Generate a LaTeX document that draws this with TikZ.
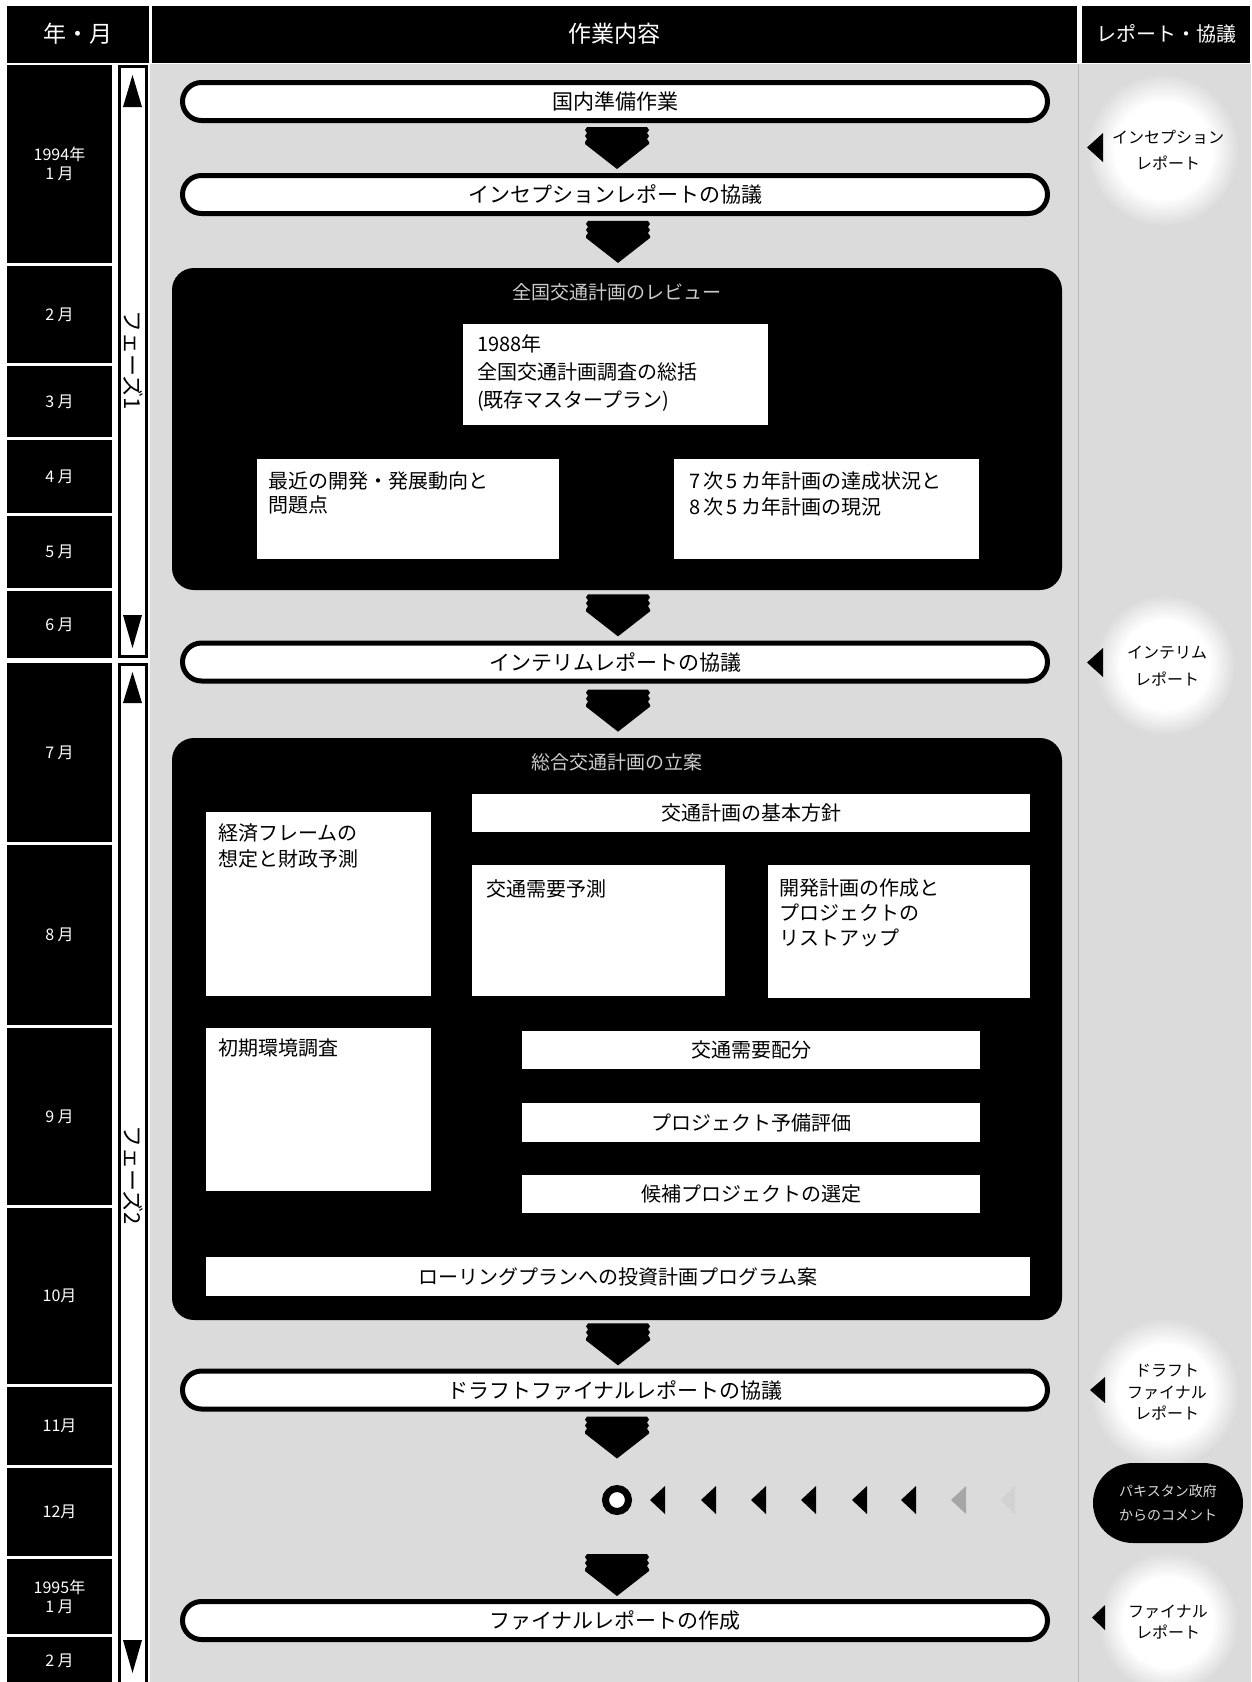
\documentclass[tikz,border=0pt]{standalone}
\usepackage{fontspec}
\setmainfont{Noto Sans CJK JP}
\usetikzlibrary{calc}
\definecolor{bg}{gray}{0.86}
\pgfdeclareradialshading{glow}{\pgfpoint{0cm}{0cm}}{color(0bp)=(white); color(16bp)=(white); color(25bp)=(bg); color(50bp)=(bg)}
\begin{document}
\begin{tikzpicture}[x=1pt,y=-1pt,
  hdr/.style={fill=black,text=white,inner sep=0pt,minimum height=57pt,font=\fontsize{23}{27}\selectfont},
  month/.style={fill=black,text=white,inner sep=0pt,minimum width=105pt,align=center,font=\fontsize{16}{19}\selectfont},
  phasebar/.style={draw=black,line width=3pt,fill=white,inner sep=0pt,minimum width=27pt},
  phasetext/.style={rotate=-90,inner sep=0pt,font=\fontsize{22}{26}\selectfont},
  pill/.style={draw=black,line width=5pt,fill=white,rounded corners=19pt,minimum width=865pt,minimum height=38pt,inner sep=0pt,font=\fontsize{21}{25}\selectfont},
  blackbox/.style={fill=black,rounded corners=22pt,inner sep=0pt,minimum width=890pt},
  boxtitle/.style={text=white!80!black,inner sep=0pt,font=\fontsize{19}{23}\selectfont},
  wbox/.style={fill=white,inner sep=0pt},
  wtext/.style={anchor=north west,align=left,inner sep=0pt,font=\fontsize{20}{26}\selectfont},
  ctext/.style={fill=white,inner sep=0pt,font=\fontsize{20}{24}\selectfont},
  rtext/.style={align=center,inner sep=0pt},
  bigarrow/.pic={\fill[black] (-30,-21) -- (30,-21) -- (32,-18) -- (30,-15) -- (32,-12) -- (30,-9) -- (32,-6) -- (32,-4) -- (0,21) -- (-32,-4) -- (-32,-6) -- (-30,-9) -- (-32,-12) -- (-30,-15) -- (-32,-18) -- cycle;}
]
\useasboundingbox (0,0) rectangle (1251,1682);
\fill[white] (0,0) rectangle (1251,1682);
% stippled background
\fill[bg] (150,64) rectangle (1251,1682);
\draw[gray!55,line width=1pt] (1078,64) -- (1078,1682);
\foreach \cx/\cy/\r in {1163/150/76, 1165/665/70, 1165/1392/74, 1168/1622/70} {
  \shade[shading=glow] (\cx,\cy) circle (\r);
}
% headers
\node[hdr,minimum width=142pt] (hym) at (78,34) {年・月};
\node[hdr,minimum width=925pt] (hwork) at (614.5,34) {作業内容};
\node[hdr,minimum width=168pt,font=\fontsize{20}{24}\selectfont] (hrep) at (1166,34) {レポート・協議};
% months
\node[month,minimum height=198pt] (m1) at (59.5,164) {1994年\\1 月};
\node[month,minimum height=97pt] (m2) at (59.5,314.5) {2 月};
\node[month,minimum height=71pt] (m3) at (59.5,401.5) {3 月};
\node[month,minimum height=73pt] (m4) at (59.5,476.5) {4 月};
\node[month,minimum height=72pt] (m5) at (59.5,552) {5 月};
\node[month,minimum height=67pt] (m6) at (59.5,624.5) {6 月};
\node[month,minimum height=179pt] (m7) at (59.5,752.5) {7 月};
\node[month,minimum height=180pt] (m8) at (59.5,935) {8 月};
\node[month,minimum height=177pt] (m9) at (59.5,1116.5) {9 月};
\node[month,minimum height=176pt] (m10) at (59.5,1296) {10月};
\node[month,minimum height=78pt] (m11) at (59.5,1426) {11月};
\node[month,minimum height=88pt] (m12) at (59.5,1512) {12月};
\node[month,minimum height=75pt] (m13) at (59.5,1596.5) {1995年\\1 月};
\node[month,minimum height=60pt] (m14) at (59.5,1667) {};
\node[text=white,inner sep=0pt,font=\fontsize{16}{19}\selectfont] (m14t) at (59.5,1661) {2 月};
% phases
\node[phasebar,minimum height=590pt] (ph1) at (133,361.5) {};
\node[phasebar,minimum height=1034pt] (ph2) at (133,1181.5) {};
\fill (123,107) -- (142,107) -- (132.5,75) -- cycle;
\fill (123,615) -- (142,615) -- (132.5,648) -- cycle;
\fill (123,703) -- (142,703) -- (132.5,672) -- cycle;
\fill (123,1640) -- (142,1640) -- (132.5,1673) -- cycle;
\node[phasetext] (ph1t) at (133,360) {フェーズ1};
\node[phasetext] (ph2t) at (133,1175) {フェーズ2};
% pills
\node[pill] (p1) at (615,101.5) {国内準備作業};
\node[pill] (p2) at (615,194.5) {インセプションレポートの協議};
\node[pill] (p3) at (615,662) {インテリムレポートの協議};
\node[pill] (p4) at (615,1390) {ドラフトファイナルレポートの協議};
\node[pill] (p5) at (615,1620.5) {ファイナルレポートの作成};
% black box 1
\node[blackbox,minimum height=322pt] (bx1) at (617,429) {};
\node[boxtitle] (bx1t) at (617,292) {全国交通計画のレビュー};
\node[wbox,minimum width=305pt,minimum height=101pt] (b1a) at (615.5,374.5) {};
\node[wtext,font=\fontsize{20}{28}\selectfont] (b1at) at (477,334) {1988年\\全国交通計画調査の総括\\(既存マスタープラン)};
\node[wbox,minimum width=302pt,minimum height=100pt] (b1b) at (408,509) {};
\node[wtext,font=\fontsize{20}{24}\selectfont] (b1bt) at (268,471) {最近の開発・発展動向と\\問題点};
\node[wbox,minimum width=305pt,minimum height=100pt] (b1c) at (826.5,509) {};
\node[wtext] (b1ct) at (689,471) {7\,次\,5\,カ年計画の達成状況と\\8\,次\,5\,カ年計画の現況};
% black box 2
\node[blackbox,minimum height=582pt] (bx2) at (617,1029) {};
\node[boxtitle] (bx2t) at (617,762) {総合交通計画の立案};
\node[ctext,minimum width=558pt,minimum height=38pt] (c1) at (751,813) {交通計画の基本方針};
\node[wbox,minimum width=225pt,minimum height=184pt] (c2) at (318.5,904) {};
\node[wtext] (c2t) at (218,823) {経済フレームの\\想定と財政予測};
\node[wbox,minimum width=253pt,minimum height=131pt] (c3) at (598.5,930.5) {};
\node[wtext] (c3t) at (486,879) {交通需要予測};
\node[wbox,minimum width=262pt,minimum height=133pt] (c4) at (899,931.5) {};
\node[wtext,font=\fontsize{20}{25}\selectfont] (c4t) at (779,879) {開発計画の作成と\\プロジェクトの\\リストアップ};
\node[wbox,minimum width=225pt,minimum height=163pt] (c5) at (318.5,1109.5) {};
\node[wtext] (c5t) at (218,1038) {初期環境調査};
\node[ctext,minimum width=458pt,minimum height=38pt] (c6) at (751,1050) {交通需要配分};
\node[ctext,minimum width=458pt,minimum height=39pt] (c7) at (751,1122.5) {プロジェクト予備評価};
\node[ctext,minimum width=458pt,minimum height=38pt] (c8) at (751,1194) {候補プロジェクトの選定};
\node[ctext,minimum width=824pt,minimum height=39pt] (c9) at (618,1276.5) {ローリングプランへの投資計画プログラム案};
% flow arrows
\pic at ($(p1.south)!0.5!(p2.north)+(2,0)$) {bigarrow};
\pic at ($(p2.south)!0.5!(bx1.north)+(2,0)$) {bigarrow};
\pic at ($(bx1.south)!0.5!(p3.north)+(2,0)$) {bigarrow};
\pic at ($(p3.south)!0.5!(bx2.north)+(2,0)$) {bigarrow};
\pic at ($(bx2.south)!0.5!(p4.north)+(2,0)$) {bigarrow};
\pic at ($(p4.south)+(2,26)$) {bigarrow};
\pic at ($(p5.north)+(2,-24)$) {bigarrow};
% comment row
\node[draw=black,line width=7pt,fill=white,circle,minimum size=23pt,inner sep=0pt] (ring) at (617,1500) {};
\node[fill=black,rounded corners=40pt,minimum width=150pt,minimum height=80pt,inner sep=0pt,text=white!85!black,align=center,font=\fontsize{14}{24}\selectfont] (mtg) at (1168,1503) {パキスタン政府\\からのコメント};
\foreach \tx/\col in {650/black, 701/black, 751/black, 801/black, 852/black, 901/black, 951/gray!70, 1000/gray!35} {
  \fill[\col] (\tx,1500) -- (\tx+15,1486) -- (\tx+15,1514) -- cycle;
}
% report labels
\fill (1087,147.5) -- (1103,133) -- (1103,162) -- cycle;
\node[rtext,font=\fontsize{16}{26}\selectfont] (r1) at (1168,150) {インセプション\\レポート};
\fill (1087,662.5) -- (1103,648) -- (1103,677) -- cycle;
\node[rtext,font=\fontsize{16}{27}\selectfont] (r2) at (1167,666.5) {インテリム\\レポート};
\fill (1090,1390) -- (1105,1377) -- (1105,1403) -- cycle;
\node[rtext,font=\fontsize{16}{21.5}\selectfont] (r3) at (1167,1392.5) {ドラフト\\ファイナル\\レポート};
\fill (1092,1617.5) -- (1105,1605) -- (1105,1630) -- cycle;
\node[rtext,font=\fontsize{16}{21}\selectfont] (r5) at (1168,1622.5) {ファイナル\\レポート};
\end{tikzpicture}
\end{document}
